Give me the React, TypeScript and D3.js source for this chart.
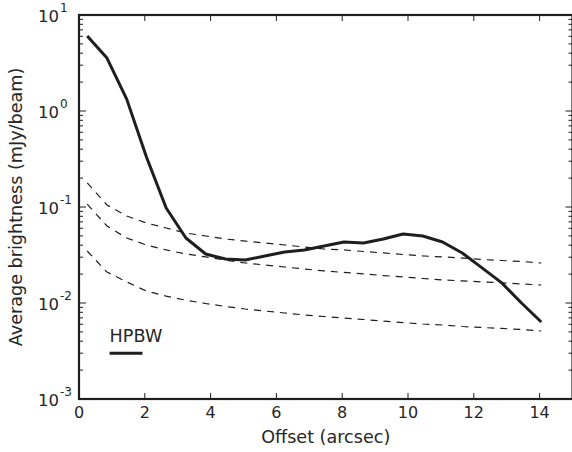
import React from "react";
import * as d3 from "d3";

const offsets = [0.25, 0.85, 1.45, 2.05, 2.65, 3.25, 3.85, 4.45, 5.05, 5.65, 6.25, 6.85, 7.45, 8.05, 8.65, 9.25, 9.85, 10.45, 11.05, 11.65, 12.25, 12.85, 13.45, 14.05];

const brightness = [6.04, 3.56, 1.33, 0.332, 0.0977, 0.0475, 0.0324, 0.0287, 0.028, 0.0309, 0.034, 0.0357, 0.0392, 0.0432, 0.0422, 0.0464, 0.0523, 0.0499, 0.0432, 0.0332, 0.0232, 0.0162, 0.01, 0.00634];

const modelHigh = [0.178, 0.105, 0.0806, 0.0681, 0.0604, 0.0536, 0.0499, 0.0464, 0.0442, 0.0422, 0.0402, 0.0383, 0.0365, 0.0357, 0.0344, 0.0332, 0.032, 0.0309, 0.0302, 0.0294, 0.0284, 0.0277, 0.0271, 0.0261];

const modelMid = [0.107, 0.0634, 0.0475, 0.0402, 0.0357, 0.0324, 0.0302, 0.028, 0.0261, 0.0249, 0.0237, 0.0226, 0.0216, 0.0208, 0.0201, 0.0193, 0.0187, 0.018, 0.0174, 0.017, 0.0166, 0.0162, 0.0158, 0.0154];

const modelLow = [0.0348, 0.021, 0.0166, 0.0133, 0.0118, 0.0107, 0.00988, 0.0092, 0.00866, 0.00825, 0.00787, 0.0075, 0.00723, 0.00698, 0.00673, 0.00649, 0.00626, 0.00604, 0.0059, 0.00569, 0.00556, 0.00543, 0.0053, 0.00511];

const xTicks = [0, 2, 4, 6, 8, 10, 12, 14];
const yExponents = [-3, -2, -1, 0, 1];
const hpbwStart = 0.93;
const hpbwWidth = 1.0;
const hpbwY = 0.003;

const W = 572;
const H = 452;
const L = 79;
const R = 572.5;
const T = 15;
const B = 399;

export default function App() {
  const x = d3.scaleLinear().domain([0, 15]).range([L, R]);
  const y = d3.scaleLog().domain([1e-3, 1e1]).range([B, T]);
  const line = d3
    .line<number>()
    .x((_, i) => x(offsets[i]))
    .y((d) => y(d));

  const minor: number[] = [];
  for (let e = -3; e < 1; e++) {
    for (let m = 2; m <= 9; m++) minor.push(m * Math.pow(10, e));
  }
  const font = "DejaVu Sans, sans-serif";
  const txt = "#262626";
  const ink = "#1e1e1e";

  return (
    <svg width={W} height={H} style={{ position: "absolute", left: 0, top: 0 }} fontFamily={font}>
      <rect x={0} y={0} width={W} height={H} fill="white" />
      {[modelHigh, modelMid, modelLow].map((s, i) => (
        <path key={i} d={line(s) || ""} fill="none" stroke={ink} strokeWidth={1.2} strokeDasharray="7,6" />
      ))}
      <path d={line(brightness) || ""} fill="none" stroke={ink} strokeWidth={3} strokeLinejoin="round" />
      <line x1={x(hpbwStart)} x2={x(hpbwStart + hpbwWidth)} y1={y(hpbwY)} y2={y(hpbwY)} stroke={ink} strokeWidth={3} />
      <text x={x(hpbwStart)} y={y(hpbwY) - 11} fontSize={17.6} fill={txt}>HPBW</text>

      {/* ticks */}
      {xTicks.map((t) => (
        <g key={t}>
          <line x1={x(t)} x2={x(t)} y1={B} y2={B - 6} stroke={ink} strokeWidth={1} />
          <line x1={x(t)} x2={x(t)} y1={T} y2={T + 6} stroke={ink} strokeWidth={1} />
          <text x={x(t)} y={B + 19} fontSize={16} fill={txt} textAnchor="middle">{t}</text>
        </g>
      ))}
      {yExponents.map((e) => {
        const yy = y(Math.pow(10, e));
        return (
          <g key={e}>
            <line x1={L} x2={L + 7} y1={yy} y2={yy} stroke={ink} strokeWidth={1} />
            <line x1={R} x2={R - 7} y1={yy} y2={yy} stroke={ink} strokeWidth={1} />
            <text x={59} y={yy + 7} fontSize={16.5} fill={txt} textAnchor="end">10</text>
            <text x={60} y={yy - 3} fontSize={12} fill={txt} textAnchor="start">{e}</text>
          </g>
        );
      })}
      {minor.map((v, i) => (
        <g key={i}>
          <line x1={L} x2={L + 4} y1={y(v)} y2={y(v)} stroke={ink} strokeWidth={1} />
          <line x1={R} x2={R - 4} y1={y(v)} y2={y(v)} stroke={ink} strokeWidth={1} />
        </g>
      ))}
      <rect x={L} y={T} width={R - L} height={B - T} fill="none" stroke={ink} strokeWidth={2.2} />

      <text x={(L + R) / 2} y={443} fontSize={17.6} fill={txt} textAnchor="middle">Offset (arcsec)</text>
      <text transform={`translate(22,${(T + B) / 2}) rotate(-90)`} fontSize={17.6} fill={txt} textAnchor="middle">
        Average brightness (mJy/beam)
      </text>
    </svg>
  );
}
